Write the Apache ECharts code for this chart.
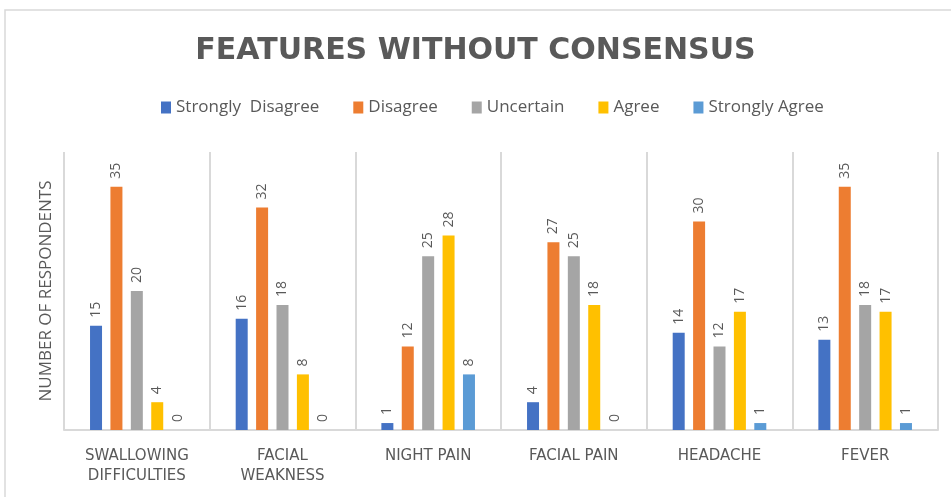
<!DOCTYPE html>
<html>
<head>
<meta charset="utf-8">
<script src="https://cdn.jsdelivr.net/npm/echarts@6/dist/echarts.min.js"></script>
<style>
  html, body { margin: 0; padding: 0; background: #fff; }
  #chart { width: 951px; height: 497px; }
</style>
</head>
<body>
<div id="chart"></div>
<script>
const categories = ['SWALLOWING\nDIFFICULTIES', 'FACIAL\nWEAKNESS', 'NIGHT PAIN', 'FACIAL PAIN', 'HEADACHE', 'FEVER']
const stronglyDisagree = [15, 16, 1, 4, 14, 13]
const disagree = [35, 32, 12, 27, 30, 35]
const uncertain = [20, 18, 25, 25, 12, 18]
const agree = [4, 8, 28, 18, 17, 17]
const stronglyAgree = [0, 0, 8, 0, 1, 1]

const textColor = '#595959'
const font = 'Open Sans'

function makeSeries(name, data) {
  return {
    name,
    type: 'bar',
    data,
    barWidth: 12,
    barGap: '70%',
    label: {
      show: true,
      position: 'top',
      rotate: 90,
      align: 'left',
      verticalAlign: 'middle',
      distance: 8,
      color: textColor,
      fontFamily: font,
      fontSize: 14,
    },
  }
}

const myChart = echarts.init(document.getElementById('chart'))
myChart.setOption({
  animation: false,
  color: ['#4472C4', '#ED7D31', '#A5A5A5', '#FFC000', '#5B9BD5'],
  graphic: [
    {
      type: 'rect',
      shape: { x: 5, y: 10, width: 960, height: 500 },
      style: { fill: 'none', stroke: '#d9d9d9', lineWidth: 1.5 },
    },
  ],
  title: {
    text: 'FEATURES WITHOUT CONSENSUS',
    left: 'center',
    top: 31,
    textStyle: {
      color: textColor,
      fontFamily: 'DejaVu Sans',
      fontWeight: 'bold',
      fontSize: 30,
    },
  },
  legend: {
    top: 94,
    left: 156,
    itemWidth: 10,
    itemHeight: 12,
    itemGap: 34,
    icon: 'rect',
    textStyle: { color: textColor, fontFamily: font, fontSize: 17 },
  },
  grid: { left: 64, right: 13, top: 152, bottom: 67 },
  xAxis: {
    type: 'category',
    data: categories,
    axisLine: { lineStyle: { color: '#d9d9d9', width: 2 } },
    axisTick: { show: false },
    splitLine: { show: true, lineStyle: { color: '#d9d9d9', width: 2 } },
    axisLabel: {
      color: textColor,
      fontFamily: 'DejaVu Sans',
      fontSize: 15,
      lineHeight: 20,
      margin: 16,
      interval: 0,
    },
  },
  yAxis: {
    type: 'value',
    min: 0,
    max: 40,
    name: 'NUMBER OF RESPONDENTS',
    nameLocation: 'middle',
    nameGap: 9,
    nameTextStyle: { color: textColor, fontFamily: font, fontSize: 17 },
    axisLabel: { show: false },
    axisLine: { show: false },
    axisTick: { show: false },
    splitLine: { show: false },
  },
  series: [
    makeSeries('Strongly  Disagree', stronglyDisagree),
    makeSeries('Disagree', disagree),
    makeSeries('Uncertain', uncertain),
    makeSeries('Agree', agree),
    makeSeries('Strongly Agree', stronglyAgree),
  ],
})
</script>
</body>
</html>
